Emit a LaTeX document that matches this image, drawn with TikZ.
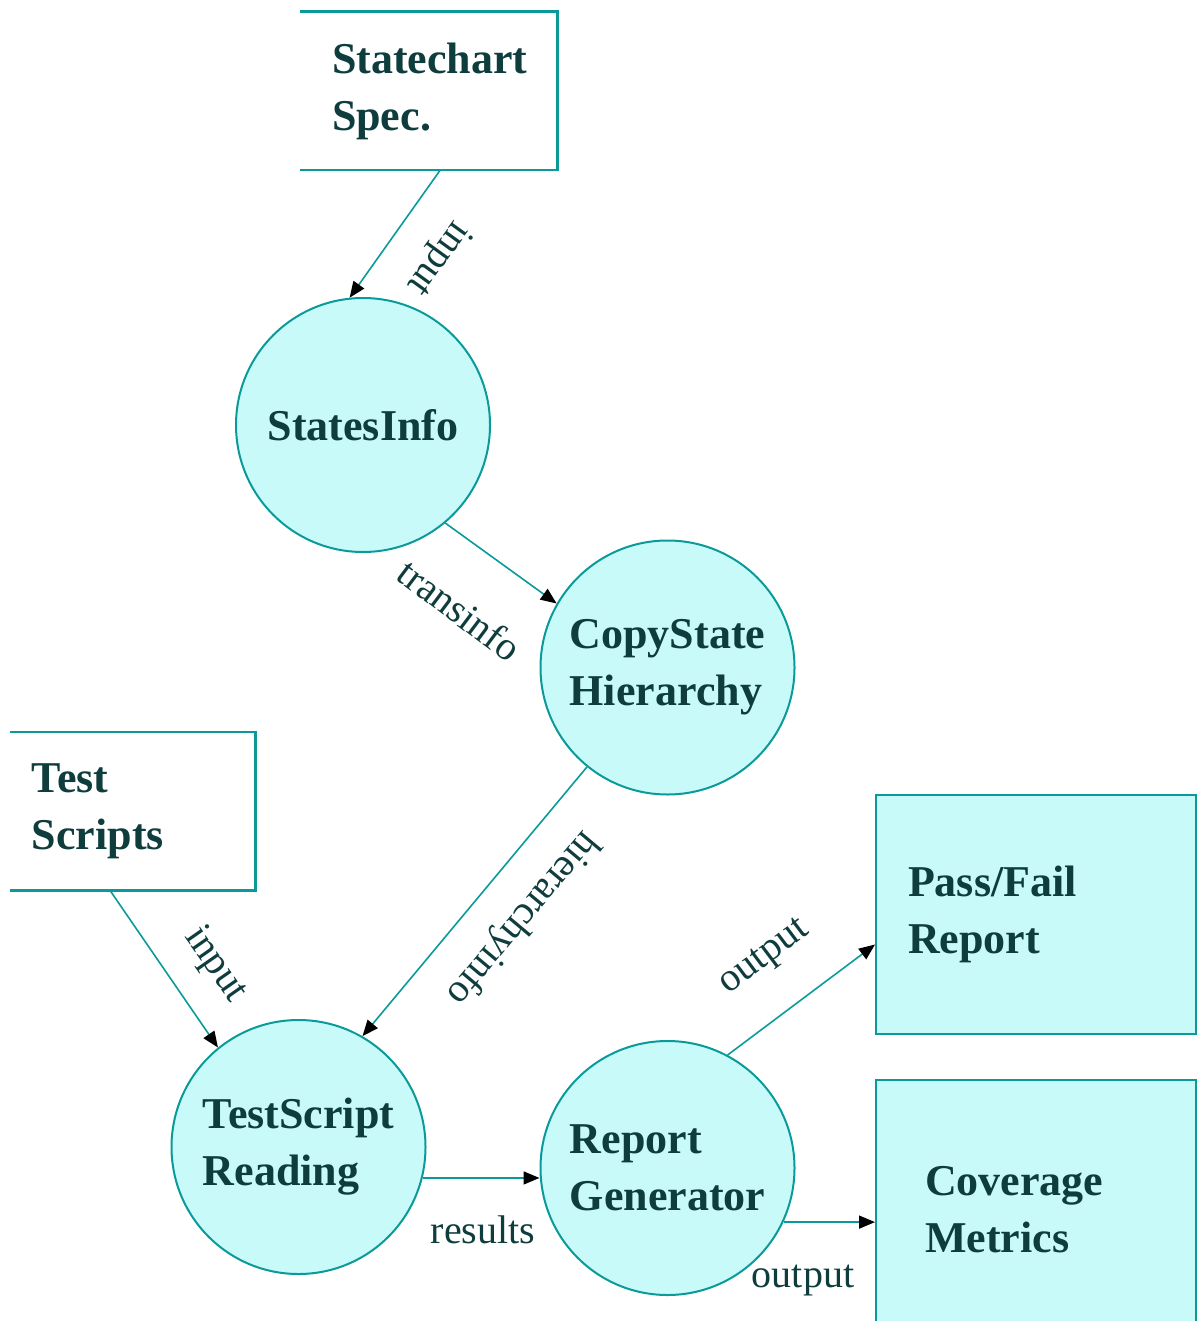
\documentclass[tikz,border=0pt]{standalone}
\usepackage{fontspec}
\setmainfont{Liberation Serif}
\usetikzlibrary{arrows.meta,calc}
\definecolor{dfdline}{HTML}{0A9A9A}
\definecolor{dfdfill}{HTML}{C8FAFA}
\definecolor{dfdtext}{HTML}{0F3D3D}
\newcommand{\nodefont}{\fontsize{22}{28.5}\selectfont\bfseries}
\newcommand{\flowfont}{\fontsize{20}{24}\selectfont}
\tikzset{
%%%%%%%%%%  Node styles
process/.style={circle, draw=dfdline, fill=dfdfill, line width=1pt,
                minimum size=127pt, inner sep=0pt, align=left,
                font=\nodefont, text=dfdtext},
source/.style={rectangle, minimum height=79pt, align=left,
               font=\nodefont, text=dfdtext},
sink/.style={rectangle, draw=dfdline, fill=dfdfill, line width=1pt,
             minimum width=160pt, align=left, font=\nodefont, text=dfdtext},
%%%% line styles
opentop/.style={draw=dfdline, line width=1.1pt},
flow/.style={draw=dfdline, line width=0.8pt,
             -{Triangle[length=8pt,width=6.5pt,color=black]}},
flowlabel/.style={font=\flowfont, text=dfdtext, inner sep=0pt}
}
\begin{document}
\begin{tikzpicture}[x=0.5pt, y=-0.5pt]
\useasboundingbox (0,0) rectangle (1198,1321);
%% external sources, open on the left
\node[source, minimum width=128.5pt, inner xsep=16pt, text width=96.5pt]
	(spec) at (428.5,91) {Statechart\\Spec.};
\node[source, minimum width=122.5pt, inner xsep=11pt, text width=100.5pt]
	(ts) at (132.5,811) {Test\\Scripts};
\foreach \s in {spec,ts}{
	%% offset copy gives the doubled edge
	\draw[opentop, shift={(3.5,3.5)}] (\s.north west) -- (\s.north east)
		-- (\s.south east) -- (\s.south west);
	\draw[opentop] (\s.north west) -- (\s.north east)
		-- (\s.south east) -- (\s.south west);
}
%% processes
\node[process] (si) at (363,425) {\raisebox{-5pt}{StatesInfo}};
\node[process] (csh) at (667.5,667.5) {CopyState\\Hierarchy};
\node[process] (tsr) at (298.5,1147) {TestScript\\Reading};
\node[process] (rg) at (667.5,1168) {Report\\Generator};
%% sinks
\node[sink, minimum height=119.5pt, inner xsep=16pt, text width=128pt]
	(pf) at (1036,914.5) {Pass/Fail\\Report};
\node[sink, minimum height=130pt, inner xsep=24.5pt, text width=111pt]
	(cm) at (1036,1210) {Coverage\\Metrics};
%% data flows
\draw[flow] ([xshift=5.75pt]spec.south) -- (si.96);
\draw[flow] (si.-50) -- (csh.150);
\draw[flow] (csh.231) -- (tsr.60);
\draw[flow] ([xshift=-11.25pt]ts.south) -- (tsr.129);
\draw[flow] (tsr.-14) -- (tsr.-14 -| rg.west);
\draw[flow] (rg.62) -- ([yshift=-15pt]pf.west);
\draw[flow] (rg.-25) -- (rg.-25 -| cm.west);
%% flow labels
\node[flowlabel, rotate=234] (l1) at (438,258) {input};
\node[flowlabel, rotate=-37] (l2) at (460,610) {transinfo};
\node[flowlabel, rotate=230] (l3) at (522,918) {hierarchyinfo};
\node[flowlabel, rotate=-55] (l4) at (215,965) {input};
\node[flowlabel] (l5) at (483,1230) {results};
\node[flowlabel, rotate=37] (l6) at (765,958) {output};
\node[flowlabel] (l7) at (803,1280) {output};
\end{tikzpicture}
\end{document}
